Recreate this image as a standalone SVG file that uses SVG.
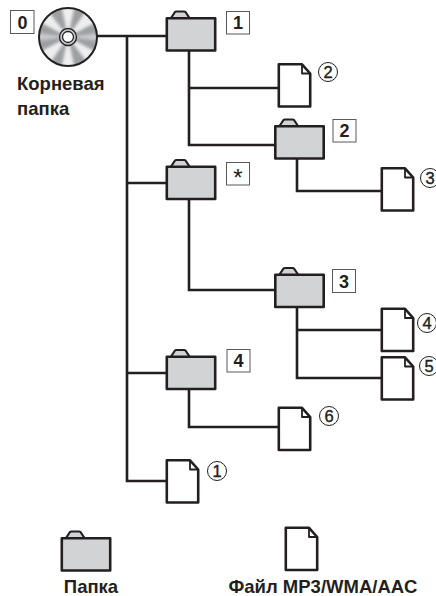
<svg xmlns="http://www.w3.org/2000/svg" width="436" height="596" viewBox="0 0 436 596">
<style>
.l{fill:none;stroke:#231f20;stroke-width:2.6;stroke-linejoin:miter}
.f{fill:#d1d3d4;stroke:#231f20;stroke-width:2.6;stroke-linejoin:round}
.t{fill:#d1d3d4;stroke:#231f20;stroke-width:2.2;stroke-linejoin:round}
.d{fill:#fff;stroke:#231f20;stroke-width:2.6;stroke-linejoin:round}
.c{fill:none;stroke:#231f20;stroke-width:1.8;stroke-linejoin:round}
.b{fill:#fff;stroke:#58595b;stroke-width:1}
.r{fill:#fff;stroke:#231f20;stroke-width:1}
text{font-family:"Liberation Sans",Arial,sans-serif;fill:#231f20}
.n{font-size:18px;font-weight:bold;text-anchor:middle}
.m{font-size:16.500px;text-anchor:middle;stroke:#231f20;stroke-width:0.4}
.h{font-size:18.500px;font-weight:bold}
</style>
<defs>
<g id="folder"><path class="t" d="M4 2 L9 -5.500 Q9.500 -6 10.500 -6 H18 Q19 -6 19.500 -5.500 L24.500 2Z"/><rect class="f" x="0.800" y="0.800" width="48.400" height="32.200"/></g>
<g id="file"><path class="d" d="M0.800 0.800 H24 L32.200 10 V43 H0.800Z"/><path class="c" d="M24 0.800 V10 H32.200"/></g>
<filter id="soft" x="-20%" y="-20%" width="140%" height="140%"><feGaussianBlur stdDeviation="1.800"/></filter>
<clipPath id="disc"><circle cx="68" cy="37" r="29"/></clipPath>
</defs>
<g id="connectors">
<path class="l" d="M97 36 H166"/>
<path class="l" d="M127 36 V481 H166"/>
<path class="l" d="M127 183 H166"/>
<path class="l" d="M127 373 H166"/>
<path class="l" d="M189 50 V145 H275"/>
<path class="l" d="M189 88 H278"/>
<path class="l" d="M297 158 V191 H381"/>
<path class="l" d="M189 199 V290 H275"/>
<path class="l" d="M297 307 V378 H381"/>
<path class="l" d="M297 330 H381"/>
<path class="l" d="M189 389 V427 H278"/>
</g>
<g id="root">
<rect class="b" x="10.500" y="10.500" width="23.500" height="23"/>
<text class="n" x="22.500" y="28.500">0</text>
<circle cx="68" cy="37" r="29" fill="#9d9fa2"/>
<g clip-path="url(#disc)"><g filter="url(#soft)" fill="#eeeeef">
<path d="M68 37 L60 0 H76Z M68 37 L60 74 H76Z"/>
<path d="M68 37 L88 8 L100 20Z M68 37 L48 66 L36 54Z"/>
<path d="M68 37 L36 20 L46 8Z M68 37 L100 54 L90 66Z"/>
<path d="M68 37 L30 32 V42Z M68 37 L106 32 V42Z" fill="#c8c9cb"/>
</g></g>
<circle cx="68" cy="37" r="29" fill="none" stroke="#231f20" stroke-width="2"/>
<circle cx="68" cy="37" r="8.500" fill="#c8c9cb" stroke="#231f20" stroke-width="1.300"/>
<circle cx="68" cy="37" r="5.500" fill="#fff" stroke="#231f20" stroke-width="1.300"/>
<text class="h" x="17" y="90">Корневая</text>
<text class="h" x="17" y="115">папка</text>
</g>
<g id="folder1"><use href="#folder" x="166" y="17.500"/><rect class="b" x="226.500" y="11.500" width="23" height="22.500"/><text class="n" x="238" y="29">1</text></g>
<g id="file2"><use href="#file" x="278" y="63.500"/><circle class="r" cx="328" cy="72" r="9.500"/><text class="m" x="328" y="78">2</text></g>
<g id="folder2"><use href="#folder" x="274.500" y="125.500"/><rect class="b" x="333" y="119.500" width="23" height="22.500"/><text class="n" x="344.500" y="137">2</text></g>
<g id="file3"><use href="#file" x="381" y="167.500"/><circle class="r" cx="430" cy="178" r="9.500"/><text class="m" x="430" y="184">3</text></g>
<g id="folderstar"><use href="#folder" x="166" y="166"/><rect class="b" x="226.500" y="162.500" width="23" height="22.500"/><text x="238" y="186" font-size="24" text-anchor="middle">*</text></g>
<g id="folder3"><use href="#folder" x="274.500" y="274"/><rect class="b" x="332.500" y="269.500" width="23" height="23"/><text class="n" x="344" y="288">3</text></g>
<g id="file4"><use href="#file" x="381" y="308"/><circle class="r" cx="427" cy="323" r="9.500"/><text class="m" x="427" y="329">4</text></g>
<g id="file5"><use href="#file" x="381" y="356.500"/><circle class="r" cx="429" cy="366" r="9.500"/><text class="m" x="429" y="372">5</text></g>
<g id="folder4"><use href="#folder" x="166" y="356"/><rect class="b" x="227" y="349.500" width="23" height="22.500"/><text class="n" x="238.500" y="367">4</text></g>
<g id="file6"><use href="#file" x="278" y="407"/><circle class="r" cx="329" cy="416" r="9.500"/><text class="m" x="329" y="422">6</text></g>
<g id="file1"><use href="#file" x="166" y="459.500"/><circle class="r" cx="217" cy="471" r="9.500"/><text class="m" x="217" y="477">1</text></g>
<g id="legend-folder"><use href="#folder" x="61" y="537.500"/><text class="h" x="91" y="593" text-anchor="middle">Папка</text></g>
<g id="legend-file"><use href="#file" x="285" y="527"/><text class="h" x="323" y="593" text-anchor="middle">Файл MP3/WMA/AAC</text></g>
</svg>
